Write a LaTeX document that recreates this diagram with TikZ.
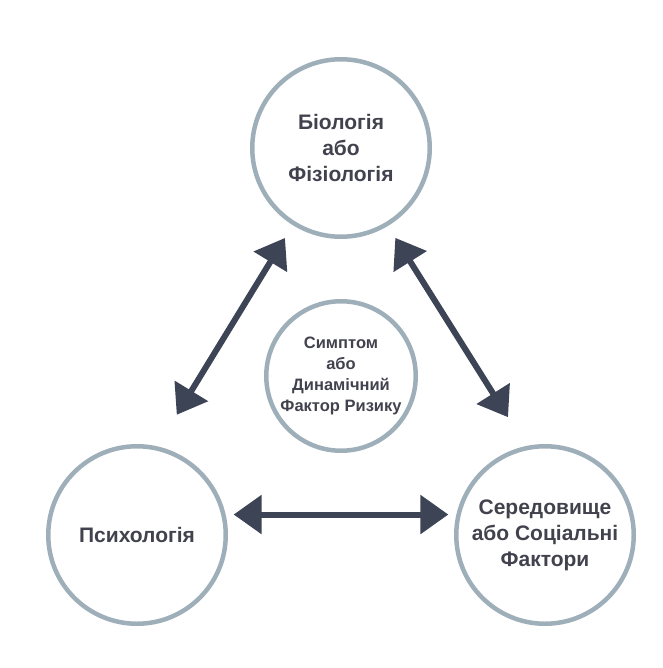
\documentclass[tikz,border=0pt]{standalone}
\usepackage{fontspec}
\setmainfont{Liberation Sans}
\usetikzlibrary{arrows.meta}

\definecolor{ringgray}{RGB}{158,175,186}
\definecolor{arrowslate}{RGB}{60,68,86}
\definecolor{textgray}{RGB}{66,66,78}

\tikzset{
    factor/.style={circle, draw=ringgray, line width=4.5pt, minimum size=177.5pt,
        inner sep=0pt, align=center, text=textgray,
        font=\bfseries\fontsize{21}{26}\selectfont},
    core/.style={factor, minimum size=149.5pt, font=\bfseries\fontsize{16.5}{21}\selectfont},
    link/.style={draw=arrowslate, line width=6pt,
        {Triangle[length=28pt,width=38pt]}-{Triangle[length=28pt,width=38pt]}},
}

\begin{document}
\begin{tikzpicture}[x=1pt, y=-1pt]
        \useasboundingbox (0,0) rectangle (662,668);

        % nodes
        \node(bio) [factor] at (341, 148) {Біологія\\або\\Фізіологія};
        \node(psy) [factor] at (137, 535) {Психологія};
        \node(env) [factor] at (545, 535) {Середовище\\або Соціальні\\Фактори};
        \node(sym) [core] at (341, 376) {Симптом\\або\\Динамічний\\Фактор Ризику};

        %edges
        \draw[link, shorten <=15pt, shorten >=37pt] (bio.238) -- (psy.77);
        \draw[link, shorten <=14pt, shorten >=34pt] (bio.301) -- (env.102);
        \draw[link, shorten <=8pt, shorten >=8pt] (psy.13) -- (env.167);

    \end{tikzpicture}
\end{document}
